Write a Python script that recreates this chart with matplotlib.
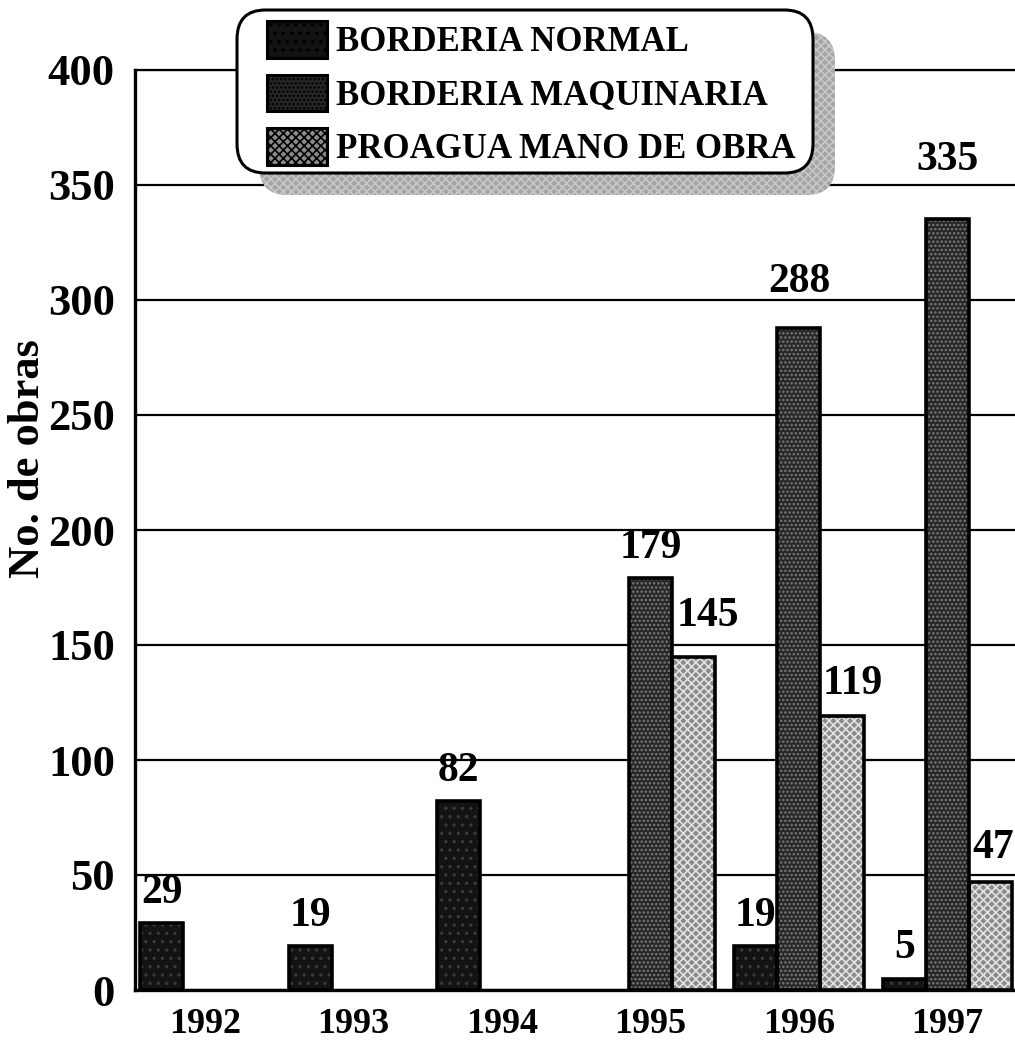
import matplotlib
matplotlib.use("Agg")
import matplotlib.pyplot as plt
from matplotlib.patches import FancyBboxPatch
import numpy as np

# ---- data ----
years = ["1992", "1993", "1994", "1995", "1996", "1997"]
series_names = ["BORDERIA NORMAL", "BORDERIA MAQUINARIA", "PROAGUA MANO DE OBRA"]
borderia_normal = [29, 19, 82, 0, 19, 5]
borderia_maquinaria = [0, 0, 0, 179, 288, 335]
proagua_mano_obra = [0, 0, 0, 145, 119, 47]
y_ticks = [0, 50, 100, 150, 200, 250, 300, 350, 400]
y_label = "No. de obras"

# ---- style ----
FONT = "Liberation Serif"
plt.rcParams["font.family"] = [FONT, "DejaVu Serif"]
plt.rcParams["font.weight"] = "bold"
plt.rcParams["hatch.linewidth"] = 1.2
PX = 0.72  # points per pixel at dpi 100

face_colors = ["#131313", "#262626", "#8a8a8a"]
hatch_colors = ["#3a3a3a", "#7a7a7a", "#e2e2e2"]
hatches = ["..", "....", "xxxx"]
bar_w = 0.29
# label nudges per (series, index): (dx px, gap px)
label_nudge = {
    (1, 5): (0, 40), (1, 4): (0, 27), (2, 3): (14, 22), (2, 4): (11, 13),
    (2, 5): (3, 15),
}
default_gap = 11

W, H = 1015, 1043
fig = plt.figure(figsize=(W / 100, H / 100), dpi=100)
ax = fig.add_axes([135 / W, 1 - 990 / H, (W - 135) / W, (990 - 70) / H])

x = np.arange(len(years))
series = [borderia_normal, borderia_maquinaria, proagua_mano_obra]
offsets = [-bar_w, 0, bar_w]
handles = []
for si, vals in enumerate(series):
    off = offsets[si]
    filled = ax.bar(x + off, vals, width=bar_w, color=face_colors[si],
                    edgecolor=hatch_colors[si], hatch=hatches[si],
                    linewidth=0, zorder=3)
    outline = ax.bar(x + off, vals, width=bar_w, fill=False, edgecolor="black",
                     linewidth=2.6, zorder=4)
    for p, v in zip(outline.patches, vals):
        if v == 0:
            p.set_visible(False)
    handles.append(filled)
    for i, v in enumerate(vals):
        if v == 0:
            continue
        dx, gap = label_nudge.get((si, i), (0, default_gap))
        ax.annotate(str(v), xy=(x[i] + off, v), xytext=(dx * PX, gap * PX),
                    textcoords="offset points", ha="center", va="bottom",
                    fontsize=30, fontweight="bold", fontfamily=FONT, zorder=5)

ax.set_ylim(0, 400)
ax.set_xlim(-0.471, 5.455)
ax.set_yticks(y_ticks)
ax.set_yticklabels([str(t) for t in y_ticks], fontsize=32, fontweight="bold")
ax.set_xticks(x)
ax.set_xticklabels(years, fontsize=26, fontweight="bold")
ax.tick_params(axis="y", length=0, pad=20 * PX)
ax.tick_params(axis="x", length=0, pad=18 * PX)
ax.yaxis.grid(True, color="black", linewidth=1.6, zorder=0)
ax.set_axisbelow(True)
for s in ["left", "bottom"]:
    ax.spines[s].set_linewidth(2.4)
ax.spines["top"].set_linewidth(1.6)
ax.spines["right"].set_visible(False)

fig.text(28 / W, 1 - 459 / H, y_label, rotation=90, ha="center", va="center",
         fontsize=32, fontweight="bold")

# ---- legend box with shadow ----
bx0, by0, bx1, by1 = 237, 10, 813, 173  # pixel coords (top-left origin)
sh = (22, 22)
shadow = FancyBboxPatch(((bx0 + sh[0]) / W, 1 - (by1 + sh[1]) / H),
                        (bx1 - bx0) / W, (by1 - by0) / H,
                        boxstyle="round,pad=0,rounding_size=0.028",
                        transform=fig.transFigure, facecolor="#a5a5a5",
                        edgecolor="#c8c8c8", hatch="xxxx", linewidth=0,
                        zorder=10)
box = FancyBboxPatch((bx0 / W, 1 - by1 / H), (bx1 - bx0) / W, (by1 - by0) / H,
                     boxstyle="round,pad=0,rounding_size=0.028",
                     transform=fig.transFigure, facecolor="white",
                     edgecolor="black", linewidth=2.2, zorder=11)
fig.patches.extend([shadow, box])

leg = fig.legend(handles=handles, labels=series_names, loc="upper left",
                 bbox_to_anchor=(267 / W, 1 - 21 / H), frameon=False,
                 prop={"family": FONT, "weight": "bold", "size": 25},
                 handlelength=1.73, handleheight=1.25, handletextpad=0.25,
                 labelspacing=0.45, borderpad=0, borderaxespad=0)
for p in leg.get_patches():
    p.set_edgecolor("black")
    p.set_linewidth(2.2)
leg.set_zorder(12)

fig.savefig("out.png", dpi=100)
